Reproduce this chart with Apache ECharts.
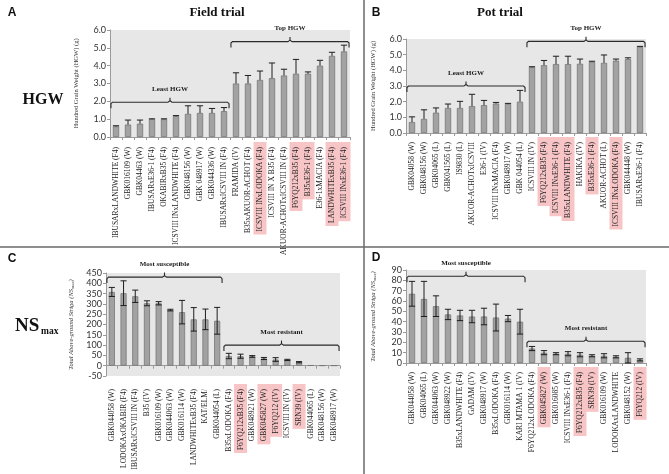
<!DOCTYPE html>
<html><head><meta charset="utf-8">
<script src="https://cdn.jsdelivr.net/npm/echarts@6/dist/echarts.min.js"></script>
<style>html,body{margin:0;padding:0;background:#fff}#c{width:669px;height:474px}</style>
</head><body><div id="c"></div>
<script>
// ---------- Panel A: Field trial, HGW ----------
var catsA = ['IBUSARxLANDWHITE (F4)','GBK016109 (W)','GBK04463 (W)','IBUSARxE36-1 (F4)','OKABIRxB35 (F4)','ICSVIII INxLANDWHITE (F4)','GBK048156 (W)','GBK 048917 (W)','GBK044336 (W)','IBUSARxICSVIII IN (F4)','FRAMIDA (IV)','B35xAKUOR-ACHOT (F4)','ICSVIII INxLODOKA (F4)','ICSVIII IN X B35 (F4)','AKUOR-ACHOTxICSVIII IN (F4)','F6YQ212xB35 (F4)','B35xE36-1 (F4)','E36-1xMACIA (F4)','LANDWHITExB35 (F4)','ICSVIII INxE36-1 (F4)'];
var valsA = [0.6,0.7,0.75,1.0,1.0,1.17,1.3,1.35,1.35,1.45,3.0,3.0,3.2,3.3,3.45,3.55,3.55,4.0,4.55,4.8];
var errsA = [0.03,0.25,0.2,0.02,0.02,0.03,0.45,0.4,0.25,0.2,0.6,0.45,0.5,0.85,0.35,0.8,0.1,0.3,0.2,0.35];
var hlA = [12,15,16,18,19];
var brA = [{s:0,e:9,y:1.95,t:'Least HGW'},{s:10,e:19,y:5.35,t:'Top HGW'}];

// ---------- Panel B: Pot trial, HGW ----------
var catsB = ['GBK04058 (W)','GBK048156 (W)','GBK04065 (L)','GBK041565 (L)','IS9830 (L)','AKUOR-ACHOTxICSVIII','E36-1 (IV)','ICSVIII INxMACIA (F4)','GBK048917 (W)','GBK 044054 (L)','ICSVIII IN (IV)','F6YQ212xB35 (F4)','ICSVIII INxE36-1 (F4)','B35xLANDWHITE (F4)','HAKIKA (IV)','B35xE36-1 (F4)','AKUOR-ACHOT (L)','ICSVIII INxLODOKA (F4)','GBK044448 (W)','IBUSARxE36-1 (F4)'];
var valsB = [0.7,0.9,1.3,1.6,1.6,1.72,1.78,1.88,1.86,2.0,4.2,4.33,4.4,4.4,4.42,4.55,4.48,4.62,4.72,5.5];
var errsB = [0.33,0.58,0.3,0.25,0.42,0.75,0.3,0.07,0.03,0.72,0.03,0.3,0.5,0.5,0.3,0.03,0.5,0.1,0.08,0.03];
var hlB = [11,12,13,15,17];
var brB = [{s:0,e:9,y:3.0,t:'Least HGW'},{s:10,e:19,y:5.85,t:'Top HGW'}];

// ---------- Panel C: Field trial, NSmax ----------
var catsC = ['GBK044058 (W)','LODOKAxOKABIR (F4)','IBUSARxICSVIII IN (F4)','B35 (IV)','GBK016109 (W)','GBK044063 (W)','GBK016114 (W)','LANDWHITExB35 (F4)','KAT/ELM/','GBK044054 (L)','B35xLODOKA (F4)','F6YQ212xB35 (F4)','GBK048921 (W)','GBK045827 (W)','F6YQ212 (IV)','ICSVIII IN (IV)','SRN39 (IV)','GBK044065 (L)','GBK048156 (W)','GBK048917 (W)'];
var valsC = [358,352,337,303,303,270,260,225,225,218,47,46,45,35,30,28,17,2,1,1];
var errsC = [22,60,30,12,8,4,57,57,50,65,13,10,4,5,9,3,3,0,0,0];
var hlC = [11,13,14,16];
var brC = [{s:0,e:9,y:430,t:'Most susceptible'},{s:10,e:19,y:100,t:'Most resistant'}];

// ---------- Panel D: Pot trial, NSmax ----------
var catsD = ['GBK044058 (W)','GBK04065 (L)','GBK044063 (W)','GBK048922 (W)','B35xLANDWHITE (F4)','GADAM (IV)','GBK048917 (W)','B35xLODOKA (F4)','GBK016114 (W)','KARI MTAMA 1 (IV)','F6YQ212xLODOKA (F4)','GBK045827 (W)','GBK016085 (W)','ICSVIII INxE36-1 (F4)','F6YQ212xB35 (F4)','SRN39 (IV)','GBK016109 (W)','LODOKAxLANDWHITE','GBK048152 (W)','F6YQ212 (IV)'];
var valsD = [67,62,55,47,46,45,45,44,43,40,14,10,9,9,8,7,7,6,5,3];
var errsD = [12,17,10,5,5,6,8,13,3,12,2,2,1,2,2,1,2,1,5,1];
var hlD = [11,14,15,19];
var brD = [{s:0,e:9,y:84,t:'Most susceptible'},{s:10,e:19,y:21,t:'Most resistant'}];

var SERIF = '"Liberation Serif", "Times New Roman", serif';
var SANS = 'Lato, "Liberation Sans", sans-serif';

var panels = [
  {grid:{left:110,top:30,width:240,height:107}, min:0,max:6,interval:1,dec:1, cats:catsA, vals:valsA, errs:errsA, hl:hlA, br:brA, sym:false, margin:5,
   name:'Hundred Grain Weight (HGW) (g)', nameGap:30, italic:false},
  {grid:{left:406,top:39,width:240,height:94}, min:0,max:6,interval:1,dec:1, cats:catsB, vals:valsB, errs:errsB, hl:hlB, br:brB, sym:false, margin:4,
   name:'Hundred Grain Weight (HGW) (g)', nameGap:29, italic:false},
  {grid:{left:106,top:273,width:234,height:103}, min:-50,max:450,interval:50,dec:0, cats:catsC, vals:valsC, errs:errsC, hl:hlC, br:brC, sym:true, margin:8,
   name:'Total Above-ground {i|Striga} (NS{s|max})', nameGap:31, italic:true},
  {grid:{left:406,top:270,width:240,height:93}, min:0,max:90,interval:10,dec:0, cats:catsD, vals:valsD, errs:errsD, hl:hlD, br:brD, sym:true, margin:4,
   name:'Total Above-ground {i|Striga} (NS{s|max})', nameGap:29, italic:true}
];

var grids=[], xAxes=[], yAxes=[], series=[];
panels.forEach(function(p,k){
  grids.push(Object.assign({show:true, backgroundColor:'#e7e7e7', borderWidth:0}, p.grid));
  xAxes.push({type:'category', gridIndex:k, data:p.cats,
    axisLine:{onZero:true, lineStyle:{color:'#9a9a9a'}},
    axisTick:{show:true, length:3, lineStyle:{color:'#9a9a9a'}},
    axisLabel:{rotate:90, interval:0, margin:p.margin, fontSize:7.5, fontFamily:SERIF, color:'#222',
      formatter:(function(hl){return function(v,i){ return hl.indexOf(i)>=0 ? '{h|'+v+'}' : '{n|'+v+'}'; };})(p.hl),
      rich:{h:{backgroundColor:'#f8c5c7', padding:[2.5,5,2.5,3], fontSize:7.5, fontFamily:SERIF, color:'#222'},
            n:{padding:[2.5,5,2.5,3], fontSize:7.5, fontFamily:SERIF, color:'#222'}}}
  });
  yAxes.push({type:'value', gridIndex:k, min:p.min, max:p.max, interval:p.interval,
    axisLine:{show:true, lineStyle:{color:'#9a9a9a'}},
    axisTick:{show:true, length:3, lineStyle:{color:'#9a9a9a'}},
    splitLine:{show:false},
    axisLabel:{fontSize:9, fontFamily:SANS, color:'#333', margin:4,
      formatter:(function(d){return function(v){return v.toFixed(d);};})(p.dec)},
    name:p.name, nameLocation:'middle', nameGap:p.nameGap,
    nameTextStyle:{fontSize:6.5, fontFamily:SERIF, color:'#333', fontStyle:p.italic?'italic':'normal',
      rich:{i:{fontSize:6.5, fontFamily:SERIF, fontStyle:'italic', color:'#333'},
            s:{fontSize:4.5, fontFamily:SERIF, fontStyle:'italic', color:'#333', verticalAlign:'bottom', padding:[3,0,0,0]}}}
  });
  series.push({type:'bar', xAxisIndex:k, yAxisIndex:k, data:p.vals, barWidth:'52%',
    itemStyle:{color:'#a2a2a2', borderColor:'#767676', borderWidth:0.8}, silent:true});
  series.push({type:'custom', xAxisIndex:k, yAxisIndex:k, z:5,
    data:p.vals.map(function(v,i){return [i, v, p.errs[i]];}),
    encode:{x:0,y:1},
    renderItem:(function(sym){return function(params, api){
      var i=api.value(0), v=api.value(1), e=api.value(2);
      if(!(e>0)) return null;
      var t=api.coord([i, v+e]), b=api.coord([i, sym? v-e : v]);
      var w=api.size([1,0])[0]*0.26;
      var st={stroke:'#1e1e1e', lineWidth:1};
      var ch=[{type:'line', shape:{x1:t[0],y1:t[1],x2:b[0],y2:b[1]}, style:st},
              {type:'line', shape:{x1:t[0]-w,y1:t[1],x2:t[0]+w,y2:t[1]}, style:st}];
      if(sym) ch.push({type:'line', shape:{x1:b[0]-w,y1:b[1],x2:b[0]+w,y2:b[1]}, style:st});
      return {type:'group', children:ch};
    };})(p.sym)
  });
  series.push({type:'custom', xAxisIndex:k, yAxisIndex:k, z:6, clip:false,
    data:p.br.map(function(b){return [b.s, b.y, b.e];}),
    encode:{x:0,y:1},
    renderItem:(function(br){return function(params, api){
      var b=br[params.dataIndex];
      var bw=api.size([1,0])[0];
      var p1=api.coord([b.s, b.y]), p2=api.coord([b.e, b.y]);
      var x1=p1[0]-0.42*bw, x2=p2[0]+0.42*bw, y=p1[1], m=(x1+x2)/2;
      var st={stroke:'#2a2a2a', lineWidth:1.1, fill:null};
      return {type:'group', children:[
        {type:'polyline', shape:{points:[[x1,y+6],[x1,y+1.5],[x1+1.5,y],[m-2,y],[m,y-1.5],[m,y-4.5]]}, style:st},
        {type:'polyline', shape:{points:[[m,y-1.5],[m+2,y],[x2-1.5,y],[x2,y+1.5],[x2,y+6]]}, style:st},
        {type:'text', x:m, y:y-13, style:{text:b.t, font:'bold 7px '+SERIF, fill:'#1a1a1a', align:'center', verticalAlign:'middle', textAlign:'center', textVerticalAlign:'middle'}}
      ]};
    };})(p.br)
  });
});

function txt(x,y,t,font,align){
  return {type:'text', x:x, y:y, z:50, style:{text:t, font:font, fill:'#111', align:align||'center', verticalAlign:'middle', textAlign:align||'center', textVerticalAlign:'middle'}};
}
var graphics = [
  {type:'line', z:40, shape:{x1:364,y1:0,x2:364,y2:474}, style:{stroke:'#6a6a6a', lineWidth:1.5}},
  {type:'line', z:40, shape:{x1:0,y1:247,x2:669,y2:247}, style:{stroke:'#6a6a6a', lineWidth:1.5}},
  txt(12,13,'A','bold 12px "Liberation Sans", sans-serif'),
  txt(376,13,'B','bold 12px "Liberation Sans", sans-serif'),
  txt(12,259,'C','bold 12px "Liberation Sans", sans-serif'),
  txt(376,258,'D','bold 12px "Liberation Sans", sans-serif'),
  txt(217,13,'Field trial','bold 13px '+SERIF),
  txt(500,13,'Pot trial','bold 13px '+SERIF),
  txt(43,100,'HGW','bold 16px '+SERIF),
  txt(15,326,'NS','bold 19px '+SERIF,'left'),
  txt(41,332,'max','bold 9.5px '+SERIF,'left')
];

var chart = echarts.init(document.getElementById('c'), null, {renderer:'canvas'});
chart.setOption({animation:false, backgroundColor:'#fff', grid:grids, xAxis:xAxes, yAxis:yAxes, series:series, graphic:{elements:graphics}});
</script></body></html>
